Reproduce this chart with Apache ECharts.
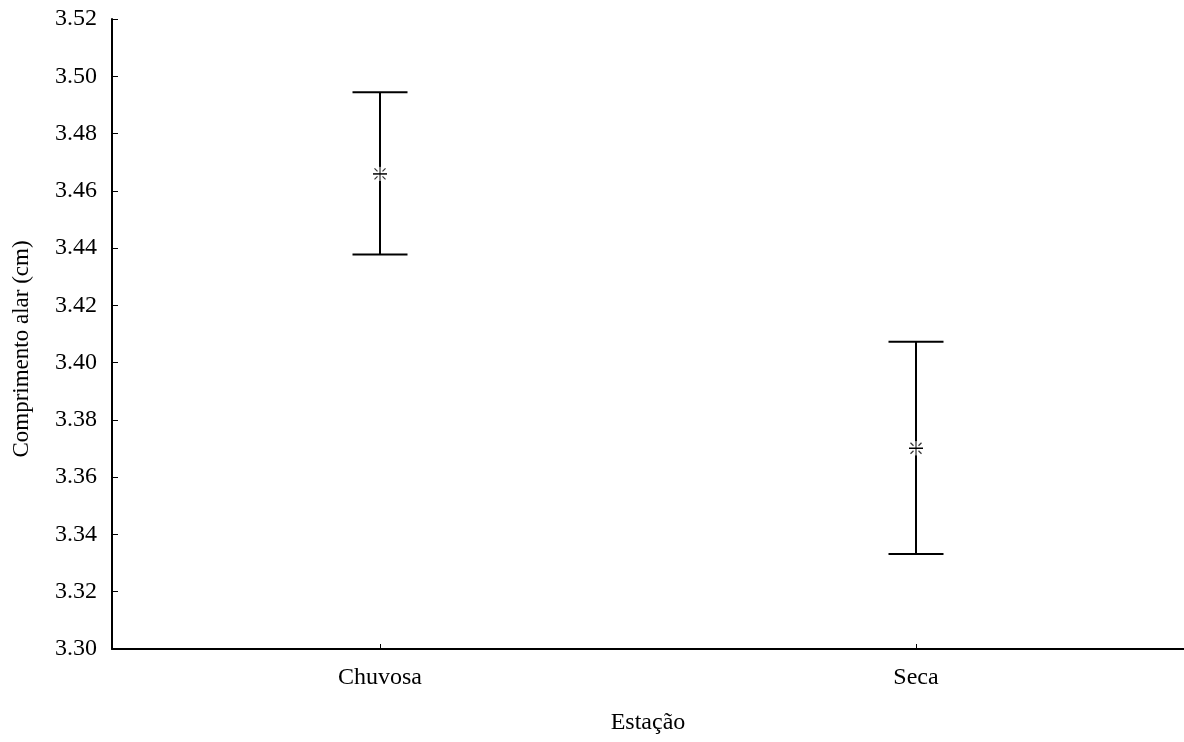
<!DOCTYPE html>
<html><head><meta charset="utf-8">
<script src="https://cdn.jsdelivr.net/npm/echarts@6/dist/echarts.min.js"></script>
<style>html,body{margin:0;padding:0;background:#fff}#c{width:1184px;height:742px}</style>
</head><body><div id="c"></div>
<script>
var categories = ['Chuvosa', 'Seca'];
var means = [3.4659, 3.3701];
var lowers = [3.4378, 3.3332];
var uppers = [3.4944, 3.4073];
var yTicks = [3.30, 3.32, 3.34, 3.36, 3.38, 3.40, 3.42, 3.44, 3.46, 3.48, 3.50, 3.52];

var data = categories.map(function (c, i) { return [i, means[i], lowers[i], uppers[i]]; });
var FONT = '"Liberation Serif", "Times New Roman", serif';
var chart = echarts.init(document.getElementById('c'));
chart.setOption({
  animation: false,
  backgroundColor: '#fff',
  grid: { left: 112, right: 0, top: 19, bottom: 93, containLabel: false, outerBoundsMode: 'none' },
  xAxis: {
    type: 'category', data: categories, boundaryGap: true,
    name: 'Estação', nameLocation: 'middle', nameGap: 62,
    nameTextStyle: { fontFamily: FONT, fontSize: 24, color: '#000', verticalAlign: 'top' },
    axisLine: { lineStyle: { color: '#000', width: 2 } },
    axisTick: { show: true, inside: true, alignWithLabel: true, length: 5, lineStyle: { color: '#000', width: 1 } },
    axisLabel: { fontFamily: FONT, fontSize: 24, color: '#000', margin: 17 },
    splitLine: { show: false }
  },
  yAxis: {
    type: 'value', min: 3.30, max: 3.52, interval: 0.02,
    name: 'Comprimento alar (cm)', nameLocation: 'middle', nameGap: 79,
    nameTextStyle: { fontFamily: FONT, fontSize: 23, color: '#000', padding: [0, 30, 0, 0] },
    axisLine: { show: true, lineStyle: { color: '#000', width: 2 } },
    axisTick: { show: true, inside: true, length: 6, lineStyle: { color: '#000', width: 1 } },
    axisLabel: { fontFamily: FONT, fontSize: 24, color: '#000', margin: 15,
      formatter: function (v) { return v.toFixed(2); } },
    splitLine: { show: false }
  },
  series: [{
    type: 'custom',
    data: data,
    renderItem: function (params, api) {
      var x = api.value(0);
      var m = api.coord([x, api.value(1)]);
      var lo = api.coord([x, api.value(2)]);
      var hi = api.coord([x, api.value(3)]);
      var cx = m[0], cy = m[1];
      var hw = 27.5;
      var ls = { stroke: '#000', lineWidth: 2 };
      var gs = { stroke: '#333', lineWidth: 1.2 };
      var ch = [
        { type: 'line', shape: { x1: cx, y1: hi[1], x2: cx, y2: lo[1] }, style: ls },
        { type: 'line', shape: { x1: cx - hw, y1: hi[1], x2: cx + hw, y2: hi[1] }, style: ls },
        { type: 'line', shape: { x1: cx - hw, y1: lo[1], x2: cx + hw, y2: lo[1] }, style: ls },
        { type: 'rect', shape: { x: cx - 1.5, y: cy - 7, width: 3, height: 14 }, style: { fill: '#fff' } },
        { type: 'line', shape: { x1: cx, y1: cy - 7, x2: cx, y2: cy + 7 }, style: { stroke: '#000', lineWidth: 1 } },
        { type: 'line', shape: { x1: cx - 7, y1: cy, x2: cx + 7, y2: cy }, style: { stroke: '#000', lineWidth: 1.5 } }
      ];
      [[-1, -1], [1, -1], [-1, 1], [1, 1]].forEach(function (d) {
        ch.push({ type: 'line', shape: { x1: cx + d[0] * 2.5, y1: cy + d[1] * 2.5, x2: cx + d[0] * 5.5, y2: cy + d[1] * 5.5 }, style: gs });
      });
      return { type: 'group', children: ch };
    }
  }]
});
</script></body></html>
